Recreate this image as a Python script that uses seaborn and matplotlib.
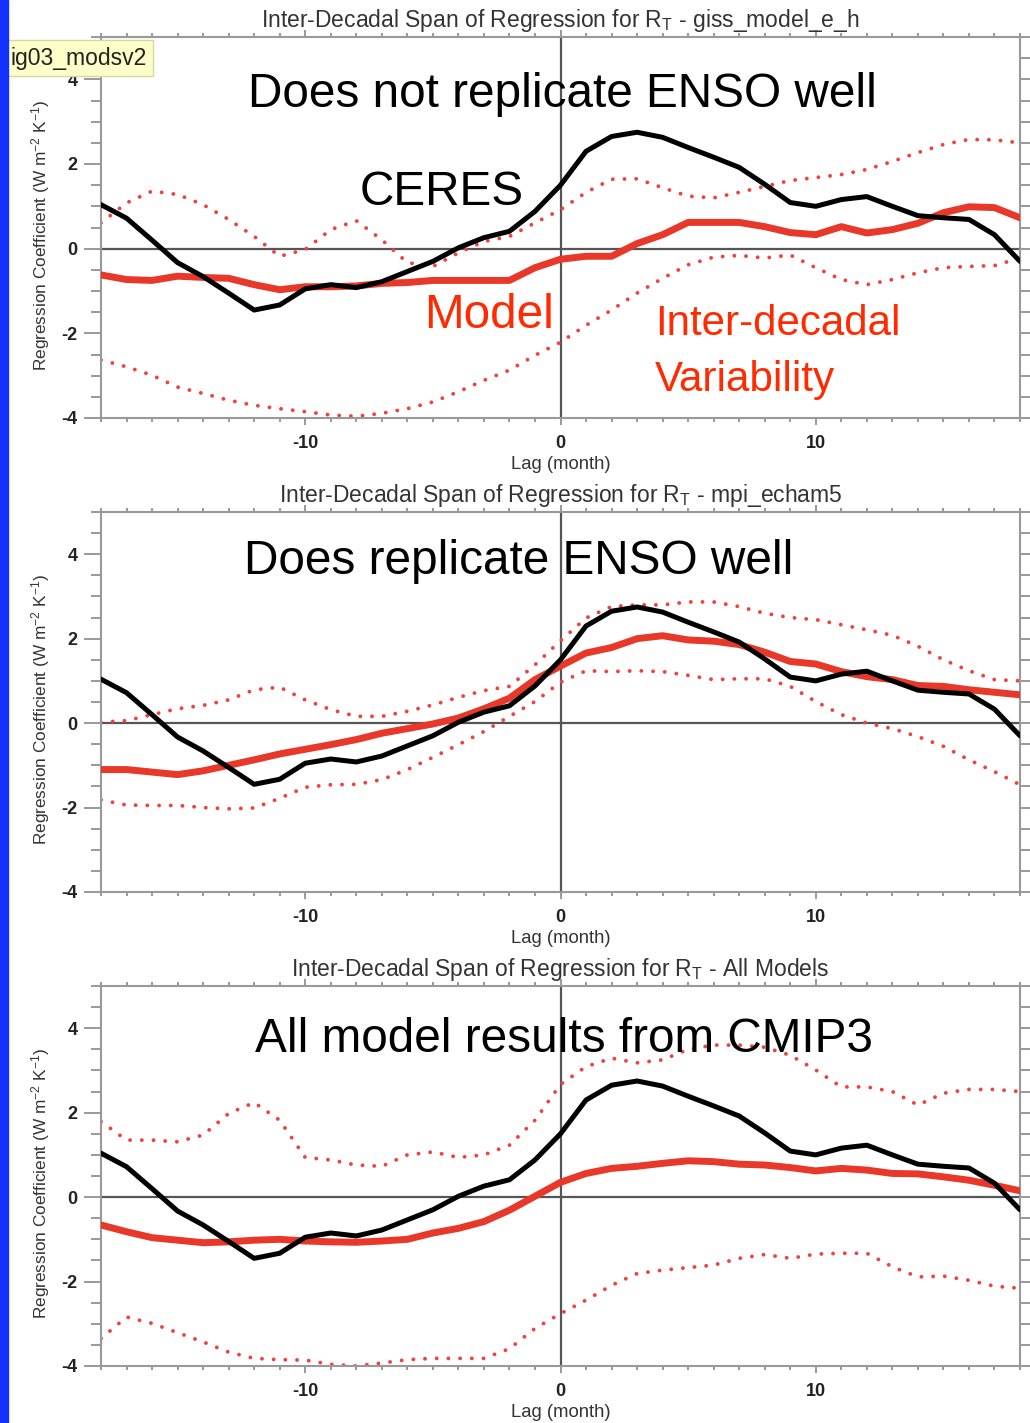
import matplotlib
matplotlib.use("Agg")
import matplotlib.pyplot as plt
import seaborn as sns
from matplotlib.patches import Rectangle
from matplotlib.ticker import MultipleLocator

# Datos
lags = list(range(-18, 19))

ceres = [1.04, 0.72, 0.20, -0.33, -0.66, -1.05, -1.45, -1.33, -0.95, -0.85, -0.92, -0.78, -0.54,
         -0.30, 0.02, 0.26, 0.41, 0.88, 1.50, 2.30, 2.65, 2.75, 2.63, 2.39, 2.16, 1.92, 1.52,
         1.09, 1.00, 1.16, 1.23, 1.00, 0.78, 0.73, 0.69, 0.33, -0.30]

giss_model = [-0.62, -0.73, -0.75, -0.65, -0.68, -0.70, -0.85, -0.97, -0.90, -0.90, -0.88, -0.82,
              -0.80, -0.75, -0.75, -0.75, -0.75, -0.45, -0.25, -0.18, -0.18, 0.12, 0.33, 0.62,
              0.62, 0.62, 0.52, 0.38, 0.33, 0.52, 0.37, 0.45, 0.60, 0.85, 0.99, 0.97, 0.73]
giss_upper = [0.61, 1.08, 1.36, 1.28, 1.04, 0.69, 0.29, -0.18, -0.02, 0.45, 0.66, 0.21, -0.33,
              -0.42, -0.10, 0.17, 0.29, 0.61, 0.92, 1.33, 1.64, 1.65, 1.44, 1.24, 1.20, 1.33,
              1.47, 1.61, 1.68, 1.75, 1.87, 2.06, 2.27, 2.46, 2.58, 2.57, 2.50]
giss_lower = [-2.63, -2.79, -2.99, -3.27, -3.42, -3.58, -3.70, -3.78, -3.85, -3.93, -3.96, -3.89,
              -3.78, -3.62, -3.38, -3.11, -2.87, -2.52, -2.21, -1.81, -1.45, -1.05, -0.70, -0.38,
              -0.20, -0.16, -0.22, -0.15, -0.45, -0.73, -0.85, -0.73, -0.57, -0.45, -0.42, -0.40, -0.22]

echam_model = [-1.10, -1.10, -1.16, -1.22, -1.13, -1.00, -0.87, -0.73, -0.62, -0.51, -0.39, -0.24,
               -0.13, -0.02, 0.12, 0.34, 0.59, 1.03, 1.35, 1.66, 1.79, 2.00, 2.07, 1.97, 1.94,
               1.86, 1.68, 1.46, 1.40, 1.22, 1.10, 1.03, 0.89, 0.87, 0.79, 0.73, 0.67]
echam_upper = [0.02, 0.06, 0.20, 0.34, 0.42, 0.55, 0.79, 0.85, 0.55, 0.32, 0.16, 0.16, 0.28, 0.43,
               0.61, 0.77, 0.87, 1.38, 1.95, 2.49, 2.76, 2.80, 2.80, 2.87, 2.87, 2.76, 2.60,
               2.50, 2.45, 2.33, 2.21, 2.08, 1.82, 1.50, 1.24, 1.03, 1.00]
echam_lower = [-1.82, -1.94, -1.95, -1.95, -2.00, -2.03, -2.01, -1.78, -1.52, -1.46, -1.45, -1.34,
               -1.10, -0.81, -0.51, -0.20, 0.16, 0.51, 0.97, 1.24, 1.22, 1.24, 1.22, 1.13, 1.03,
               1.05, 1.05, 0.87, 0.51, 0.20, 0.00, -0.13, -0.32, -0.55, -0.87, -1.15, -1.46]

all_model = [-0.66, -0.82, -0.96, -1.02, -1.08, -1.06, -1.02, -1.00, -1.04, -1.06, -1.07, -1.04,
             -1.00, -0.85, -0.74, -0.58, -0.31, 0.02, 0.35, 0.56, 0.68, 0.73, 0.80, 0.86, 0.84,
             0.78, 0.76, 0.70, 0.62, 0.68, 0.64, 0.56, 0.55, 0.48, 0.40, 0.28, 0.15]
all_upper = [1.79, 1.35, 1.35, 1.31, 1.47, 1.98, 2.24, 1.82, 0.94, 0.88, 0.76, 0.73, 1.00, 1.07,
             0.94, 1.00, 1.23, 1.82, 2.67, 3.09, 3.29, 3.18, 3.25, 3.50, 3.60, 3.60, 3.55, 3.36,
             3.01, 2.61, 2.61, 2.50, 2.18, 2.46, 2.55, 2.55, 2.50]
all_lower = [-3.35, -2.84, -2.99, -3.21, -3.43, -3.67, -3.82, -3.85, -3.86, -3.96, -4.00, -3.93,
             -3.85, -3.82, -3.82, -3.82, -3.59, -3.11, -2.76, -2.44, -2.09, -1.81, -1.73, -1.67,
             -1.61, -1.45, -1.36, -1.45, -1.35, -1.33, -1.33, -1.65, -1.89, -1.87, -1.97, -2.11, -2.16]

model_names = ["giss_model_e_h", "mpi_echam5", "All Models"]
model_lines = [giss_model, echam_model, all_model]
upper_lines = [giss_upper, echam_upper, all_upper]
lower_lines = [giss_lower, echam_lower, all_lower]

# Estilo
sns.set_style("ticks")
plt.rcParams["font.family"] = ["Liberation Sans", "DejaVu Sans"]
plt.rcParams["mathtext.fontset"] = "custom"
plt.rcParams["mathtext.rm"] = "Liberation Sans"
plt.rcParams["mathtext.it"] = "Liberation Sans:italic"
plt.rcParams["axes.unicode_minus"] = False

ROJO = "#e8382a"
PUNTOS = "#f04040"
TEXTO_ROJO = "#ff2a00"
W, H = 1030, 1423

fig = plt.figure(figsize=(W / 100, H / 100), dpi=100)
tops = [37, 512, 986]
bottoms = [418, 892, 1366]
axes = []
for top, bot in zip(tops, bottoms):
    ax = fig.add_axes([101 / W, 1 - bot / H, 919 / W, (bot - top) / H])
    axes.append(ax)

for ax, name, mod, up, lo in zip(axes, model_names, model_lines, upper_lines, lower_lines):
    ax.axhline(0, color="#555555", lw=1.6, zorder=1.5)
    ax.axvline(0, color="#555555", lw=1.6, zorder=1.5)
    for band in (up, lo):
        sns.lineplot(x=lags, y=band, ax=ax, color=PUNTOS, lw=2.8,
                     linestyle=(0, (0.01, 3.0)), dash_capstyle="round", zorder=2)
    sns.lineplot(x=lags, y=mod, ax=ax, color=ROJO, lw=5, zorder=3)
    sns.lineplot(x=lags, y=ceres, ax=ax, color="black", lw=3.6, zorder=4)

    ax.set_xlim(-18, 18)
    ax.set_ylim(-4, 5)
    ax.xaxis.set_major_locator(MultipleLocator(10))
    ax.xaxis.set_minor_locator(MultipleLocator(1))
    ax.yaxis.set_major_locator(MultipleLocator(2))
    ax.yaxis.set_minor_locator(MultipleLocator(0.5))
    ax.tick_params(which="both", direction="out", top=True, right=True,
                   color="#888888", width=1.2, labelcolor="#222222")
    ax.tick_params(axis="x", which="major", length=5, pad=7, labelsize=13)
    ax.tick_params(axis="x", which="minor", length=3)
    ax.tick_params(axis="y", which="major", length=12, pad=5, labelsize=13)
    ax.tick_params(axis="y", which="minor", length=7)
    for lab in ax.get_xticklabels() + ax.get_yticklabels():
        lab.set_fontweight("bold")
    for sp in ax.spines.values():
        sp.set_color("#999999")
        sp.set_linewidth(1.5)

    ax.set_title("Inter-Decadal Span of Regression for R$_\\mathrm{T}$ - " + name,
                 fontsize=16.5, color="#333333", pad=7)
    ax.set_xlabel("Lag (month)", fontsize=13.3, color="#333333")
    ax.xaxis.set_label_coords(0.5, -0.1)
    ax.set_ylabel("Regression Coefficient (W m$^{-2}$ K$^{-1}$)", fontsize=12.4, color="#333333")
    ax.yaxis.set_label_coords(-0.053, 0.48)

# Anotaciones
a1, a2, a3 = axes
a1.text(0.502, 0.816, "Does not replicate ENSO well", transform=a1.transAxes,
        ha="center", va="baseline", fontsize=34.4, color="black", zorder=6)
a1.text(0.371, 0.559, "CERES", transform=a1.transAxes,
        ha="center", va="baseline", fontsize=34.4, color="black", zorder=6)
a1.text(0.422, 0.236, "Model", transform=a1.transAxes,
        ha="center", va="baseline", fontsize=34.4, color=TEXTO_ROJO, zorder=6)
a1.text(0.603, 0.218, "Inter-decadal", transform=a1.transAxes,
        ha="left", va="baseline", fontsize=30.3, color=TEXTO_ROJO, zorder=6)
a1.text(0.603, 0.071, "Variability", transform=a1.transAxes,
        ha="left", va="baseline", fontsize=30.3, color=TEXTO_ROJO, zorder=6)
a2.text(0.454, 0.837, "Does replicate ENSO well", transform=a2.transAxes,
        ha="center", va="baseline", fontsize=34.4, color="black", zorder=6)
a3.text(0.504, 0.826, "All model results from CMIP3", transform=a3.transAxes,
        ha="center", va="baseline", fontsize=34.4, color="black", zorder=6)

# Etiqueta amarilla y franja azul
fig.text(10 / W, 1 - 58 / H, "ig03_modsv2", fontsize=16.5, color="#222222",
         ha="left", va="center", zorder=10,
         bbox=dict(boxstyle="square,pad=0.3", fc="#fefec8", ec="#d6d6a8", lw=1))
fig.add_artist(Rectangle((0, 0), 8 / W, 1, transform=fig.transFigure,
                         color="#1432ff", zorder=20))

fig.savefig("out.png", dpi=100)
plt.close(fig)
print("Figura guardada como out.png")
